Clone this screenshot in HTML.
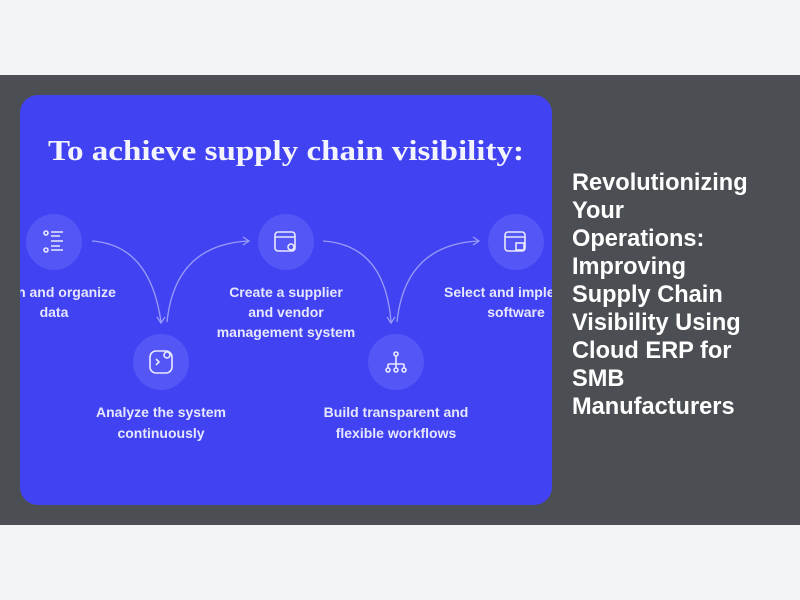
<!DOCTYPE html>
<html><head><style>
body{margin:0;width:800px;height:600px;background:#f3f4f6;position:relative;overflow:hidden;font-family:"Liberation Sans",sans-serif}
.band{position:absolute;left:0;top:75px;width:800px;height:450px;background:#4b4f54}
.t{position:absolute;left:572px;top:169px;width:225px;color:#fff;font-weight:bold;font-size:23.6px;line-height:28px;white-space:nowrap}
svg{position:absolute;left:0;top:0}
</style></head><body>
<div class="band"></div>
<svg width="800" height="600" viewBox="0 0 800 600">
<defs><clipPath id="c"><rect x="20" y="95" width="532" height="410" rx="18"/></clipPath></defs>
<g clip-path="url(#c)">
<rect x="20" y="95" width="532" height="410" fill="#4143f3"/>
<text x="286" y="160" text-anchor="middle" font-family="Liberation Serif,serif" font-weight="bold" font-size="28" fill="#f4f4ff" textLength="476" lengthAdjust="spacingAndGlyphs">To achieve supply chain visibility:</text>
<g fill="#5456f6">
<circle cx="54" cy="242" r="28"/><circle cx="286" cy="242" r="28"/><circle cx="516" cy="242" r="28"/>
<circle cx="161" cy="362" r="28"/><circle cx="396" cy="362" r="28"/>
</g>
<g fill="none" stroke="#9a9cf8" stroke-width="1.3">
<path d="M92 241 Q150 245 161 322"/><path d="M167 322 Q175 245 248 241"/>
<path d="M323 241 Q385 245 391 322"/><path d="M397 322 Q405 245 478 241"/>
<path d="M157 317 L161 323 L165 317"/><path d="M243 237 L249 241 L243 245"/>
<path d="M387 317 L391 323 L395 317"/><path d="M473 237 L479 241 L473 245"/>
</g>
<g fill="none" stroke="#e8e8ff" stroke-width="1.6">
<circle cx="46" cy="233" r="2"/><circle cx="46" cy="250" r="2"/><path d="M51 232h12M51 236h9M51 241h12M51 246h9M51 250h12"/>
<rect x="275" y="232" width="20" height="19" rx="3"/><path d="M275 237h20"/><circle cx="291" cy="247" r="3"/>
<rect x="505" y="232" width="20" height="19" rx="3"/><path d="M505 237h20"/><rect x="516" y="243" width="8" height="7"/>
<rect x="150" y="351" width="22" height="22" rx="6"/><circle cx="167" cy="355" r="3"/><path d="M156 359l3 3-3 3"/>
<circle cx="396" cy="354" r="2"/><path d="M396 356v8M388 364h16M388 364v4M396 364v4M404 364v4"/><circle cx="388" cy="370" r="2"/><circle cx="396" cy="370" r="2"/><circle cx="404" cy="370" r="2"/>
</g>
<g font-family="Liberation Sans,sans-serif" font-weight="bold" font-size="14" fill="#e6e6ff" text-anchor="middle">
<text x="54" y="297">Scan and organize</text><text x="54" y="317">data</text>
<text x="286" y="297">Create a supplier</text><text x="286" y="317">and vendor</text><text x="286" y="337">management system</text>
<text x="516" y="297">Select and implement</text><text x="516" y="317">software</text>
<text x="161" y="417">Analyze the system</text><text x="161" y="438">continuously</text>
<text x="396" y="417">Build transparent and</text><text x="396" y="438">flexible workflows</text>
</g>
</g>
</svg>
<div class="t">Revolutionizing<br>Your<br>Operations:<br>Improving<br>Supply Chain<br>Visibility Using<br>Cloud ERP for<br>SMB<br>Manufacturers</div>
</body></html>
